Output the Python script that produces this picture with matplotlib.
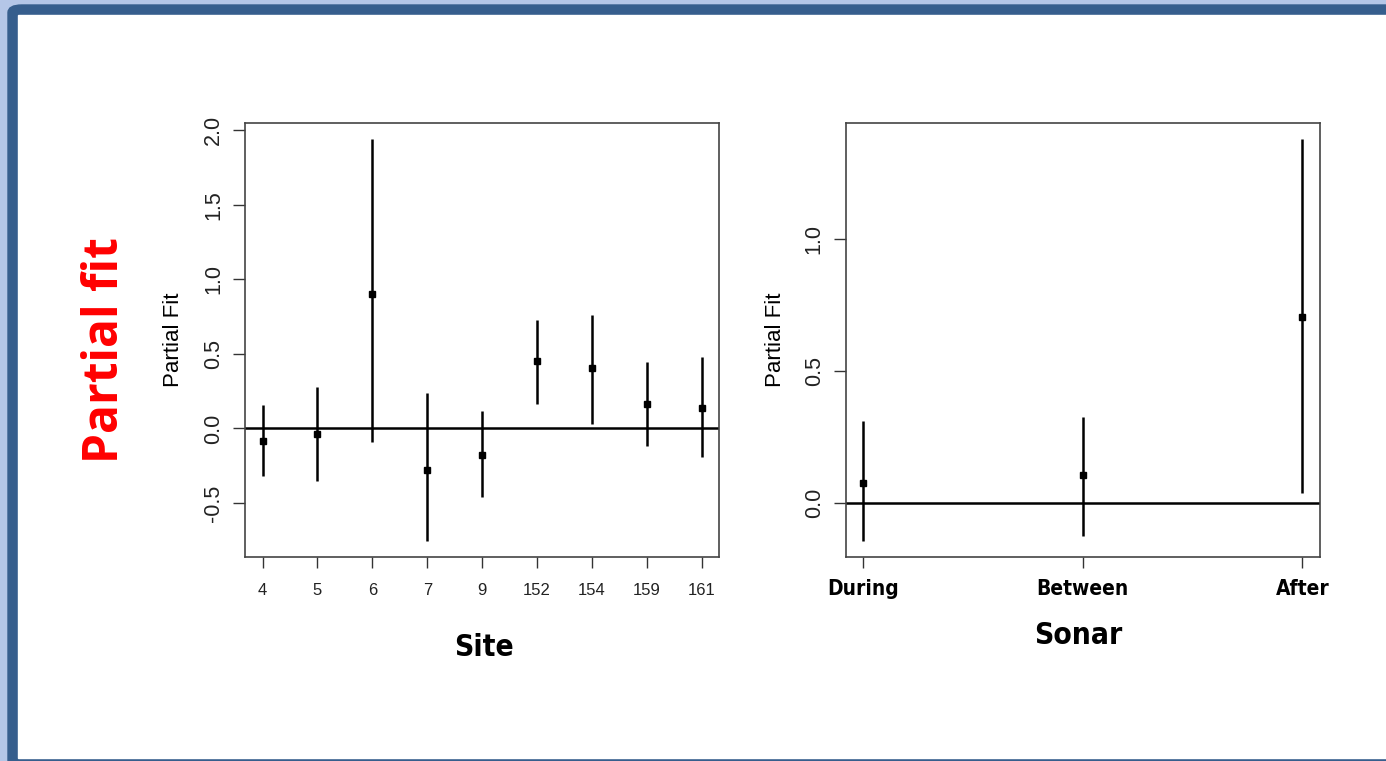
import matplotlib
matplotlib.use("Agg")
import matplotlib.pyplot as plt
from matplotlib.patches import Rectangle, FancyBboxPatch

# data
sites = ["4", "5", "6", "7", "9", "152", "154", "159", "161"]
site_fit = [-0.085, -0.036, 0.90, -0.28, -0.177, 0.453, 0.403, 0.166, 0.139]
site_hi = [0.157, 0.28, 1.942, 0.235, 0.119, 0.73, 0.762, 0.446, 0.482]
site_lo = [-0.318, -0.352, -0.09, -0.755, -0.459, 0.161, 0.027, -0.116, -0.192]

sonar = ["During", "Between", "After"]
sonar_fit = [0.076, 0.104, 0.705]
sonar_hi = [0.31, 0.326, 1.378]
sonar_lo = [-0.144, -0.126, 0.036]

W, H = 1386, 761
fig = plt.figure(figsize=(W / 100, H / 100), dpi=100)

#slide frame --------------------------------------------------------
fig.patches.append(Rectangle((0, 0), 1, 1, transform=fig.transFigure,
                             color="#b4c6e7", zorder=-3))
fig.patches.append(FancyBboxPatch((8 / W, -0.05), 1.2, 1 - 5 / H + 0.05,
                                  boxstyle="round,pad=0,rounding_size=0.01",
                                  transform=fig.transFigure, color="#365e8d", zorder=-2))
fig.patches.append(Rectangle((18 / W, 3 / H), 1.0, 1 - 18 / H, transform=fig.transFigure,
                             color="white", zorder=-1))

arial = ["Liberation Sans", "DejaVu Sans"]
cond = dict(family="DejaVu Sans", fontstretch="condensed", fontweight="bold")


def panel(rect, labels, fit, lo, hi, ylim, yticks, xfont):
    ax = fig.add_axes(rect)
    x = list(range(1, len(labels) + 1))
    ax.axhline(0, color="black", lw=1.8, zorder=1)
    ax.vlines(x, lo, hi, color="black", lw=1.8, zorder=2)
    ax.plot(x, fit, "s", color="black", ms=4, zorder=3)
    pad = (len(x) - 1) * 0.04
    ax.set_xlim(1 - pad, len(x) + pad)
    ax.set_ylim(*ylim)
    ax.set_xticks(x)
    ax.set_xticklabels(labels, **xfont)
    ax.set_yticks(yticks)
    ax.set_yticklabels(["%.1f" % v for v in yticks], rotation=90, va="center",
                       family=arial, fontsize=15.5, color="#222222")
    ax.tick_params(axis="x", length=8, width=1, color="#333333", pad=11)
    ax.tick_params(axis="y", length=9, width=1, color="#333333", pad=6)
    for s in ax.spines.values():
        s.set_color("#444444")
        s.set_linewidth(1.2)
    ax.set_ylabel("Partial Fit", family=arial, fontsize=16, color="black")
    return ax


ax1 = panel([245 / W, 1 - 556.7 / H, 474.3 / W, 433.7 / H], sites, site_fit, site_lo, site_hi,
            (-0.86, 2.048), [-0.5, 0.0, 0.5, 1.0, 1.5, 2.0],
            dict(family=arial, fontsize=12, color="#222222"))
ax1.yaxis.set_label_coords(-0.128, 0.5)

ax2 = panel([845.5 / W, 1 - 557 / H, 474.5 / W, 434 / H], sonar, sonar_fit, sonar_lo, sonar_hi,
            (-0.205, 1.439), [0.0, 0.5, 1.0],
            dict(fontsize=15, color="black", **cond))
ax2.tick_params(axis="x", pad=8)
ax2.yaxis.set_label_coords(-0.125, 0.5)
for lab in ax2.get_xticklabels():
    lab.set_x(lab.get_position()[0])
ax2.get_xticklabels()[0].set_ha("center")

fig.text(484 / W, 1 - 648 / H, "Site", fontsize=21.5, ha="center", va="center", **cond)
fig.text(1078 / W, 1 - 635 / H, "Sonar", fontsize=21.5, ha="center", va="center", **cond)
fig.text(105 / W, 1 - 350 / H, "Partial fit", family=["Open Sans", "DejaVu Sans"],
         fontweight="bold", fontsize=34.5, color="#ff0000", rotation=90,
         ha="center", va="center")

fig.savefig("out.png", dpi=100)
